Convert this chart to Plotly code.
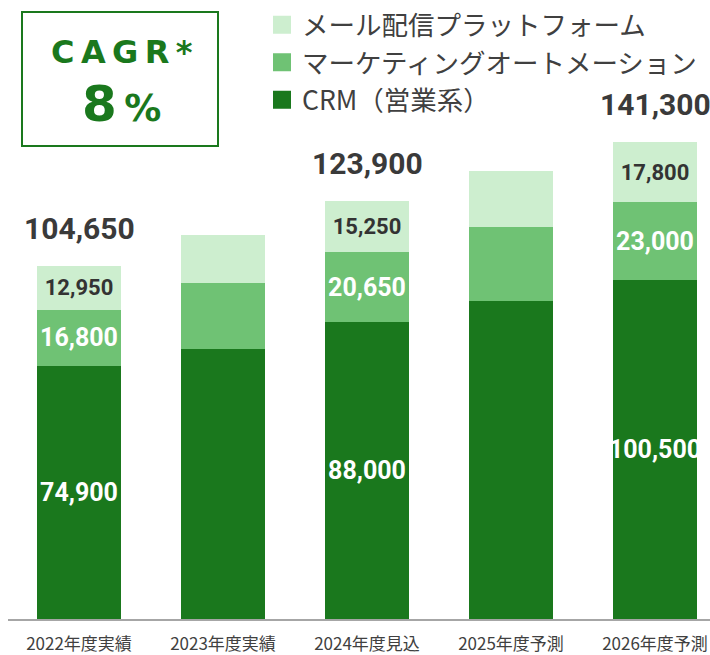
import plotly.graph_objects as go

# Dados (em unidades)
anos = ["2022年度実績", "2023年度実績", "2024年度見込", "2025年度予測", "2026年度予測"]
crm = [74900, 80000, 88000, 94200, 100500]
marketing = [16800, 19600, 20650, 22000, 23000]
mail = [12950, 14200, 15250, 16600, 17800]
rotulado = [True, False, True, False, True]  # anos com rótulos de valor

series = ["CRM（営業系）", "マーケティングオートメーション", "メール配信プラットフォーム"]
cores = ["#1a781d", "#6fc274", "#cdeecf"]
cor_texto = ["white", "white", "#333333"]
tamanho_texto = [25, 25, 22]

totais = [a + b + c for a, b, c in zip(crm, marketing, mail)]

W, H = 710, 655
ML, MB = 8, 36
PW, PH = W - ML, H - MB


def px_x(p):
    return (p - ML) / PW


def px_y(p):
    return (PH - p) / PH


fig = go.Figure()

for nome, vals, cor, ct, ts in zip(series, [crm, marketing, mail], cores, cor_texto, tamanho_texto):
    textos = [f"{v:,}" if r else "" for v, r in zip(vals, rotulado)]
    fig.add_trace(go.Bar(
        x=anos, y=vals, name=nome, marker=dict(color=cor, line=dict(width=0)),
        text=textos, textposition="inside", insidetextanchor="middle",
        constraintext="none", textangle=0,
        insidetextfont=dict(family="Roboto", size=ts, color=ct, weight="bold"),
        showlegend=False, hoverinfo="skip",
    ))

# legenda com quadrados maiores
for nome, cor in zip(series[::-1], cores[::-1]):
    fig.add_trace(go.Scatter(
        x=[None], y=[None], mode="markers", name=nome,
        marker=dict(symbol="square", size=16, color=cor, line=dict(width=2, color=cor)),
    ))

# totais acima das barras
for ano, tot, r in zip(anos, totais, rotulado):
    if r:
        fig.add_annotation(x=ano, y=tot, text=f"{tot:,}", showarrow=False,
                           yanchor="bottom", yshift=18,
                           font=dict(family="Roboto", size=30, color="#3a3a3a", weight="bold"))

# caixa CAGR
verde = "#1a781d"
fig.add_shape(type="rect", xref="paper", yref="paper",
              x0=px_x(22), x1=px_x(218), y0=px_y(146), y1=px_y(12),
              line=dict(color=verde, width=2), fillcolor="rgba(0,0,0,0)")
fig.add_annotation(xref="paper", yref="paper", x=px_x(122), y=px_y(52),
                   xanchor="center", yanchor="middle",
                   text="C\u2009A\u2009G\u2009R\u2009*", showarrow=False,
                   font=dict(family="DejaVu Sans", size=32, color=verde, weight="bold"))
fig.add_annotation(xref="paper", yref="paper", x=px_x(121), y=px_y(104),
                   xanchor="center", yanchor="middle",
                   text="8<span style='font-size:37px'>\u2009%</span>", showarrow=False,
                   font=dict(family="DejaVu Sans", size=50, color=verde, weight="bold"))

fig.update_layout(
    width=W, height=H,
    barmode="stack", bargap=1 - 84 / 144,
    margin=dict(l=ML, r=0, t=0, b=MB),
    plot_bgcolor="white", paper_bgcolor="white",
    legend=dict(x=px_x(262), y=px_y(1), xanchor="left", yanchor="top",
                traceorder="normal",
                font=dict(family="Noto Sans CJK JP", size=26.5, color="#404040"),
                bgcolor="rgba(0,0,0,0)", itemclick=False),
    xaxis=dict(type="category", range=[-(79 - ML) / 144, (W - 79) / 144],
               showline=True, linecolor="#a6a6a6", linewidth=2,
               showgrid=False, ticks="", ticklabelstandoff=9,
               tickfont=dict(family="Noto Sans CJK JP", size=17, color="#404040")),
    yaxis=dict(range=[0, PH / 3.374 * 1000], visible=False, showgrid=False),
)

# sem margem da página, para a figura ocupar a janela toda
fig.write_html("out.html", config={"displayModeBar": False},
               post_script="document.body.style.margin='0';")
